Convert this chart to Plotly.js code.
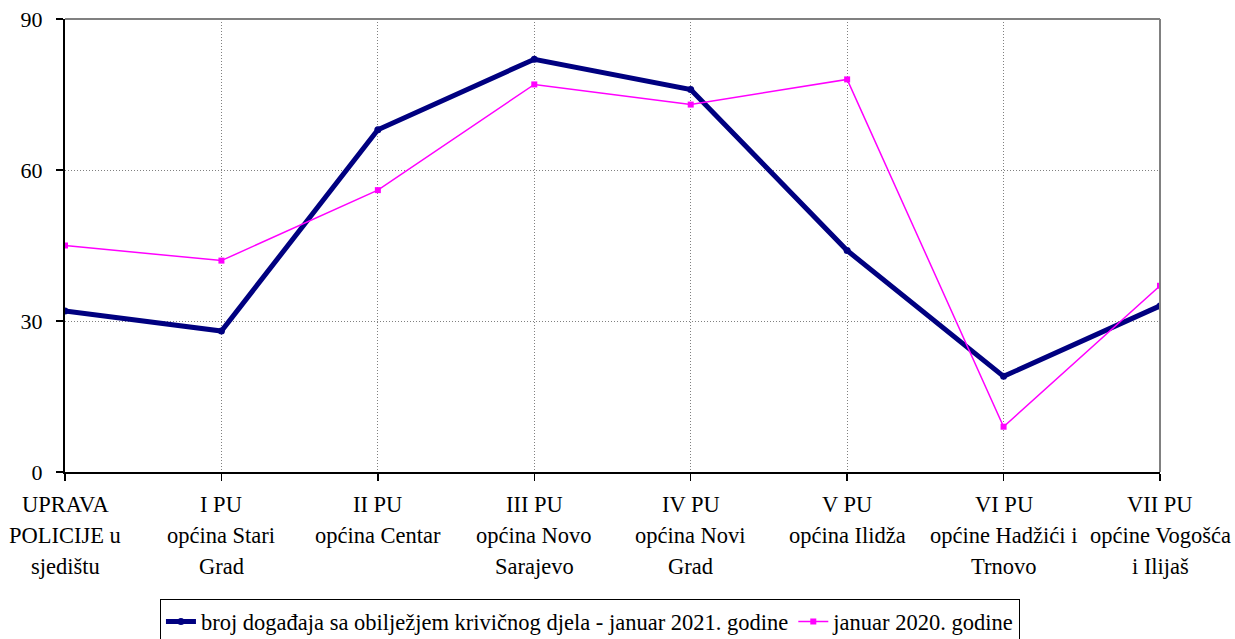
<!DOCTYPE html>
<html>
<head>
<meta charset="utf-8">
<script src="https://cdn.plot.ly/plotly-3.0.1.min.js"></script>
<style>html,body{margin:0;padding:0;background:#fff;}#chart{width:1235px;height:639px;}</style>
</head>
<body>
<div id="chart"></div>
<script>
const categories = [
  "UPRAVA<br>POLICIJE u<br>sjedištu",
  "I PU<br>općina Stari<br>Grad",
  "II PU<br>općina Centar",
  "III PU<br>općina Novo<br>Sarajevo",
  "IV PU<br>općina Novi<br>Grad",
  "V PU<br>općina Ilidža",
  "VI PU<br>općine Hadžići i<br>Trnovo",
  "VII PU<br>općine Vogošća<br>i Ilijaš"
];
const series2021Name = "broj događaja sa obilježjem krivičnog djela - januar 2021. godine";
const series2020Name = "januar 2020. godine";
const values2021 = [32, 28, 68, 82, 76, 44, 19, 33];
const values2020 = [45, 42, 56, 77, 73, 78, 9, 37];
const yTicks = [0, 30, 60, 90];

const fam = "Liberation Serif, DejaVu Serif";
const font = {family: fam, size: 22.5, color: "#000"};
const tickFont = {family: fam, size: 22, color: "#000"};

const traces = [
  {
    x: categories, y: values2021, name: series2021Name, type: "scatter", mode: "lines+markers",
    line: {color: "#000080", width: 5}, marker: {color: "#000080", size: 7, symbol: "circle"}
  },
  {
    x: categories, y: values2020, name: series2020Name, type: "scatter", mode: "lines+markers",
    line: {color: "#FF00FF", width: 1.5}, marker: {color: "#FF00FF", size: 6, symbol: "square"}
  }
];

const annotations = [];
categories.forEach(function (cat) {
  cat.split("<br>").forEach(function (line, i) {
    annotations.push({
      x: cat, xref: "x", y: 0, yref: "paper", yanchor: "middle", xanchor: "center",
      yshift: -32 - i * 31, text: line, showarrow: false, font: font
    });
  });
});

const layout = {
  width: 1235, height: 639,
  margin: {l: 65, r: 75, t: 19, b: 167},
  paper_bgcolor: "#fff", plot_bgcolor: "#fff",
  font: font,
  showlegend: true,
  legend: {
    orientation: "h", xref: "container", yref: "container",
    x: 0.4777, xanchor: "center", y: 0.062, yanchor: "top",
    bordercolor: "#000", borderwidth: 1, font: font, bgcolor: "#fff",
    itemwidth: 30, tracegroupgap: 0
  },
  xaxis: {
    type: "category", range: [0, 7], showgrid: true, gridcolor: "#808080", griddash: "1px,2px", gridwidth: 1,
    showline: true, linecolor: "#000", linewidth: 2, ticks: "outside", ticklen: 7, tickcolor: "#000", tickwidth: 1.5,
    showticklabels: false, zeroline: false, fixedrange: true
  },
  yaxis: {
    range: [0, 90], tickvals: yTicks, ticktext: yTicks.map(String), showgrid: true, gridcolor: "#808080", griddash: "1px,2px", gridwidth: 1,
    showline: true, linecolor: "#000", linewidth: 2, ticks: "outside", ticklen: 7, tickcolor: "#000", tickwidth: 1.5,
    ticklabelstandoff: 9, tickfont: tickFont, zeroline: false, fixedrange: true
  },
  annotations: annotations,
  shapes: [
    {type: "line", xref: "paper", yref: "paper", x0: 0, x1: 1, y0: 1, y1: 1, line: {color: "#808080", width: 2}},
    {type: "line", xref: "paper", yref: "paper", x0: 1, x1: 1, y0: 0, y1: 1, line: {color: "#808080", width: 2}}
  ]
};

Plotly.newPlot("chart", traces, layout, {displayModeBar: false, staticPlot: true});
</script>
</body>
</html>
